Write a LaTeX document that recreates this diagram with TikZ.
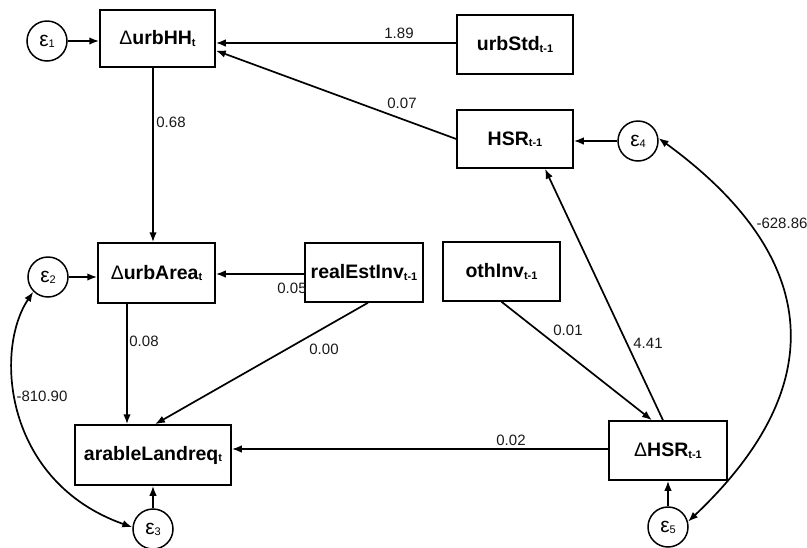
\documentclass[tikz,border=0pt]{standalone}
\usepackage{fontspec}
\setmainfont{Liberation Sans}
\usetikzlibrary{arrows.meta,calc}

% variable name with a small, slightly lowered subscript
\newcommand\varsub[2]{#1\raisebox{-1.5pt}{\fontsize{11}{11}\selectfont #2}}
% error term epsilon with index
\newcommand\errsub[1]{\fontsize{21}{21}\selectfont ε\raisebox{-1pt}{\fontsize{11}{11}\selectfont #1}}
\newcommand\dlt{{\mdseries Δ}}

\tikzset{
  var/.style={draw, rectangle, line width=1.5pt, inner sep=0pt,
    font=\fontsize{19.5}{19.5}\selectfont\bfseries},
  err/.style={draw, circle, line width=1.5pt, minimum size=40pt, inner sep=0pt},
  conn/.style={line width=1.7pt, -{Latex[length=10pt,width=7.5pt]}},
  cov/.style={line width=1.7pt, {Latex[length=10pt,width=7.5pt]}-{Latex[length=10pt,width=7.5pt]}},
  coef/.style={font=\fontsize{15}{15}\selectfont, inner sep=0pt, text=black!90}
}

\begin{document}
\begin{tikzpicture}[x=1pt,y=-1pt]
\useasboundingbox (0,0) rectangle (807,547);

% observed variables
\node[var, minimum width=115pt, minimum height=57pt] (urbHH)   at (157.5,38.5) {\varsub{\dlt urbHH}{t}};
\node[var, minimum width=116pt, minimum height=59pt] (urbStd)  at (515,44.5)   {\varsub{urbStd}{t-1}};
\node[var, minimum width=116pt, minimum height=58pt] (HSR)     at (515,139)    {\varsub{HSR}{t-1}};
\node[var, minimum width=117pt, minimum height=60pt] (urbArea) at (156.5,273)  {\varsub{\dlt urbArea}{t}};
\node[var, minimum width=118pt, minimum height=59pt] (realEst) at (364,272.5)  {\varsub{realEstInv}{t-1}};
\node[var, minimum width=117pt, minimum height=59pt] (othInv)  at (501.5,271.5){\varsub{othInv}{t-1}};
\node[var, minimum width=156pt, minimum height=60pt] (arable)  at (153,455)    {\varsub{arableLandreq}{t}};
\node[var, minimum width=118pt, minimum height=59pt] (dHSR)    at (668,450.5)  {\varsub{\dlt HSR}{t-1}};

% error terms
\node[err] (e1) at (47,41)   {\errsub{1}};
\node[err] (e2) at (48,277)  {\errsub{2}};
\node[err] (e3) at (153,529) {\errsub{3}};
\node[err] (e4) at (638,141) {\errsub{4}};
\node[err] (e5) at (668,527) {\errsub{5}};

% structural paths
\draw[conn] (e1) -- (urbHH.west |- e1);
\draw[conn] (urbStd.west |- 0,43) -- (urbHH.east |- 0,43);
\draw[conn] (HSR.west) -- ($(urbHH.east)+(0,12)$);
\draw[conn] (e4) -- (HSR.east |- e4);
\draw[conn] (urbHH.south -| 153,0) -- (urbArea.north -| 153,0);
\draw[conn] (e2) -- (urbArea.west |- e2);
\draw[conn] (realEst.west |- 0,274) -- (urbArea.east |- 0,274);
\draw[conn] (urbArea.south -| 127,0) -- (arable.north -| 127,0);
\draw[conn] ($(realEst.south)+(4,0)$) -- ($(arable.north)+(2,0)$);
\draw[conn] (othInv.south) -- ($(dHSR.north)+(-16,0)$);
\draw[conn] ($(dHSR.north)+(-5,0)$) -- ($(HSR.south)+(30,0)$);
\draw[conn] (dHSR.west |- 0,449) -- (arable.east |- 0,449);
\draw[conn] (e3) -- (arable.south -| e3);
\draw[conn] (e5) -- (dHSR.south -| e5);

% residual covariances
\draw[cov] (e2.225) .. controls (-6,350) and (4,482) .. (e3.175);
\draw[cov] (e4.8) .. controls (815,252) and (838,380) .. (e5.15);

% coefficients
\node[coef] (c1) at (399,33)  {1.89};
\node[coef] (c2) at (402,103) {0.07};
\node[coef] (c3) at (171,122) {0.68};
\node[coef] (c4) at (292,288) {0.05};
\node[coef] (c5) at (144,341) {0.08};
\node[coef] (c6) at (324,349) {0.00};
\node[coef] (c7) at (568,330) {0.01};
\node[coef] (c8) at (648,343) {4.41};
\node[coef] (c9) at (511,440) {0.02};
\node[coef] (c10) at (42,396) {-810.90};
\node[coef] (c11) at (782,223) {-628.86};
\end{tikzpicture}
\end{document}
